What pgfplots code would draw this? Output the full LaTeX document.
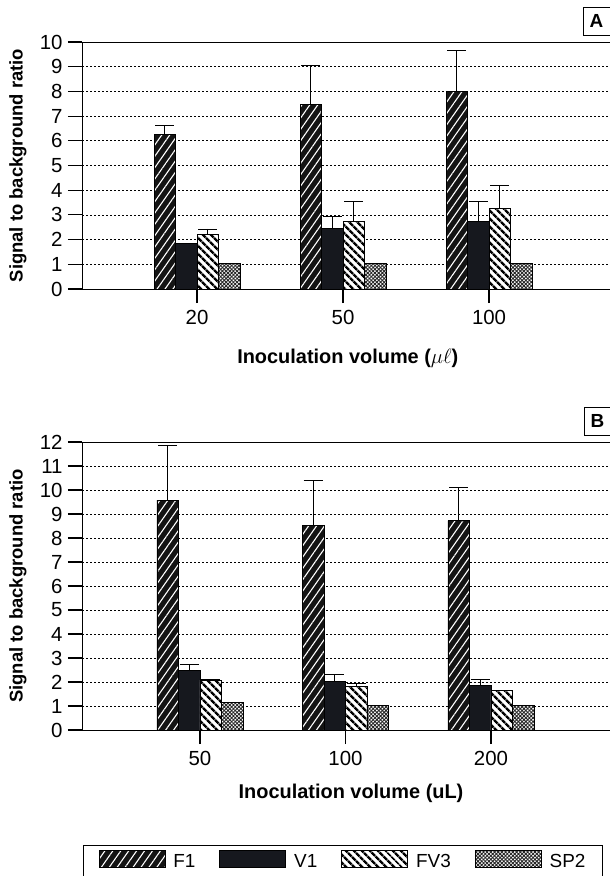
\documentclass[border=0pt]{standalone}
\usepackage{fontspec}
\setmainfont{Liberation Sans}
\usepackage{pgfplots}
\pgfplotsset{compat=1.18}
\usepackage{pgfplotstable}
\usetikzlibrary{patterns.meta}

\definecolor{vone}{RGB}{22,24,30}

\pgfplotstableread{
x F1 F1e V1 V1e FV3 FV3e SP2
0 6.27 0.36 1.85 0.00 2.20 0.23 1.02
1 7.47 1.60 2.46 0.47 2.74 0.82 1.04
2 7.99 1.66 2.73 0.82 3.27 0.92 1.03
}\tabA

\pgfplotstableread{
x F1 F1e V1 V1e FV3 FV3e SP2
0 9.58 2.27 2.47 0.28 2.08 0.03 1.14
1 8.53 1.85 2.01 0.30 1.82 0.11 1.03
2 8.72 1.38 1.86 0.26 1.65 0.00 1.03
}\tabB

\pgfplotsset{
  swatch/.style={legend image code/.code={\draw[##1] (0bp,-6bp) rectangle (66bp,11bp); \path (72bp,0bp);}},
  fone/.style={draw=black, line width=0.8bp, fill=black!92,
    postaction={pattern={Lines[angle=55,distance=6.5bp,line width=1.1bp]}, pattern color=white}},
  vone/.style={draw=black, line width=0.8bp, fill=vone},
  fvthree/.style={draw=black, line width=0.8bp, fill=white,
    postaction={pattern={Lines[angle=-45,distance=6bp,line width=2.8bp]}, pattern color=black}},
  sptwo/.style={draw=black, line width=0.8bp, fill=white,
    postaction={pattern={Hatch[angle=45,distance=2.6bp,line width=0.9bp]}, pattern color=black!85}},
  panel/.style={
    scale only axis, width=538bp,
    ybar=0pt, bar width=21.5bp,
    ymin=0,
    xtick={0,1,2},
    tick align=outside, tick pos=left,
    major tick length=14bp,
    tick style={black, line width=1.1bp},
    axis line style={black, line width=0.9bp},
    ymajorgrids,
    major grid style={black, line width=0.8bp, dash pattern=on 2.2bp off 1.8bp},
    tick label style={font=\fontsize{20.5}{20.5}\selectfont},
    xticklabel style={yshift=-4bp},
    yticklabel style={xshift=-2bp},
    /pgf/number format/assume math mode=true,
    error bars/y dir=plus, error bars/y explicit,
    error bars/error bar style={black, line width=0.8bp},
    error bars/error mark options={black, line width=0.8bp, mark size=9.5bp, rotate=90},
    ylabel style={font=\fontsize{18.5}{18.5}\bfseries\selectfont,
      at={(axis description cs:-0.119,0.5)}, anchor=center},
    xlabel style={font=\fontsize{20}{20}\bfseries\selectfont, anchor=center},
  }
}

\begin{document}
\begin{tikzpicture}
\useasboundingbox (0,0) rectangle (610bp,-876bp);

% Panel A
\begin{axis}[panel,
  at={(82bp,-289bp)}, anchor=south west,
  height=247bp,
  xmin=-0.788, xmax=2.897,
  ymax=10, ytick={0,1,...,10},
  xticklabels={20,50,100},
  ylabel={Signal to background ratio},
  xlabel={Inoculation volume (\textnormal{$\mu\ell$})},
  xlabel style={at={(axis description cs:0.494,-0.279)}},
]
\addplot[fone] table[x=x, y=F1, y error=F1e] {\tabA};
\addplot[vone] table[x=x, y=V1, y error=V1e] {\tabA};
\addplot[fvthree] table[x=x, y=FV3, y error=FV3e] {\tabA};
\addplot[sptwo, error bars/y dir=none] table[x=x, y=SP2] {\tabA};
\end{axis}
\node[draw, line width=1bp, minimum width=27bp, minimum height=28bp, inner sep=0pt,
  font=\fontsize{19}{19}\bfseries\selectfont] at (596.5bp,-21bp) {A};

% Panel B
\begin{axis}[panel,
  at={(82bp,-730bp)}, anchor=south west,
  height=288bp,
  xmin=-0.811, xmax=2.887,
  ymax=12, ytick={0,1,...,12},
  xticklabels={50,100,200},
  ylabel={Signal to background ratio},
  xlabel={Inoculation volume (uL)},
  xlabel style={at={(axis description cs:0.5,-0.219)}},
  legend columns=4,
  legend style={at={(axis description cs:0.0019,-0.399)}, anchor=north west,
    draw=black, line width=1bp, inner xsep=15bp, inner ysep=5bp,
    font=\fontsize{19}{19}\selectfont,
    /tikz/every even column/.append style={column sep=22bp}},
]
\addplot[fone, swatch] table[x=x, y=F1, y error=F1e] {\tabB};
\addplot[vone, swatch] table[x=x, y=V1, y error=V1e] {\tabB};
\addplot[fvthree, swatch] table[x=x, y=FV3, y error=FV3e] {\tabB};
\addplot[sptwo, swatch, error bars/y dir=none] table[x=x, y=SP2] {\tabB};
\legend{F1,V1,FV3,SP2}
\end{axis}
\node[draw, line width=1bp, minimum width=27bp, minimum height=28bp, inner sep=0pt,
  font=\fontsize{19}{19}\bfseries\selectfont] at (597.5bp,-421bp) {B};
\end{tikzpicture}
\end{document}
